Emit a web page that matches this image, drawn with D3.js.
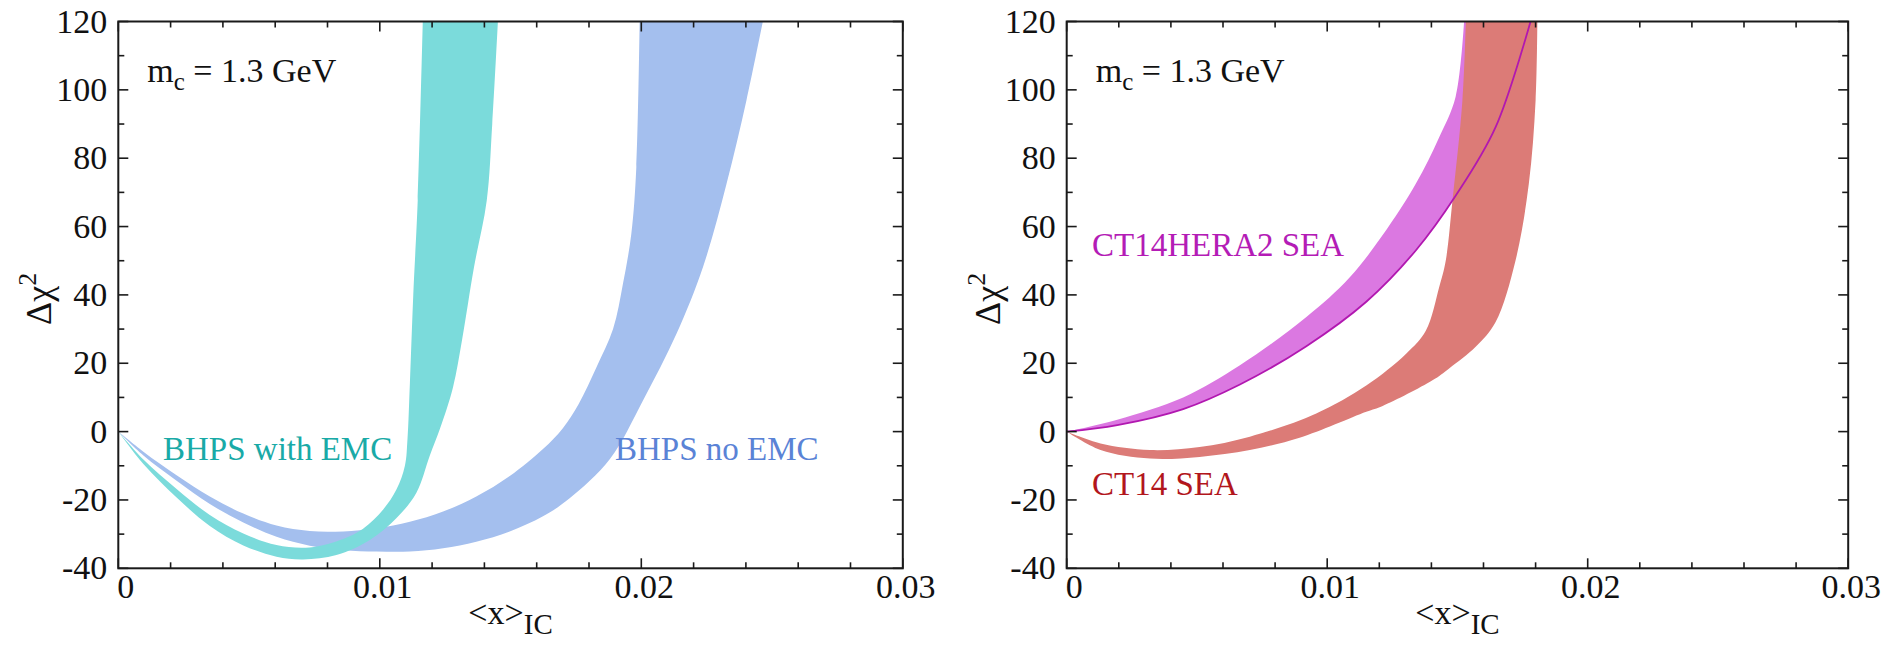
<!DOCTYPE html>
<html>
<head>
<meta charset="utf-8">
<script src="https://cdn.jsdelivr.net/npm/d3@7"></script>
<style>
  html, body { margin: 0; padding: 0; background: #fff; font-family: "Liberation Serif", "DejaVu Serif", "Times New Roman", Times, serif; }
  text { font-family: "Liberation Serif", "DejaVu Serif", "Times New Roman", Times, serif; }
</style>
</head>
<body>
<svg id="chart" width="1891" height="645" font-family="Liberation Serif, DejaVu Serif, Times New Roman, serif"></svg>
<script>
// ---------------- DATA ----------------
const xTicks = [0, 0.01, 0.02, 0.03];
const xTickLabels = ["0", "0.01", "0.02", "0.03"];
const yTicks = [-40, -20, 0, 20, 40, 60, 80, 100, 120];
const yTickLabels = ["-40", "-20", "0", "20", "40", "60", "80", "100", "120"];

// Left panel: BHPS no EMC (blue band), edges as [<x>_IC, Δχ²]
const bhpsNoEmcUpper = [[0,0],[0.00096,-5.9],[0.00223,-12.8],[0.0035,-19.0],[0.00478,-24.0],[0.00605,-27.5],[0.00732,-29.1],[0.0086,-29.2],[0.00987,-28.3],[0.01115,-26.4],[0.01242,-23.4],[0.01369,-19.0],[0.01497,-13.0],[0.01624,-5.1],[0.0170,1.0],[0.0176,8],[0.01829,18.9],[0.01892,30],[0.0193,43.3],[0.01962,58],[0.01981,77.4],[0.01994,122]];
const bhpsNoEmcLower = [[0,0],[0.00096,-7.0],[0.00223,-14.4],[0.0035,-21.2],[0.00478,-26.6],[0.00605,-30.8],[0.00732,-33.4],[0.0086,-34.7],[0.00987,-35.1],[0.01115,-35.1],[0.01242,-34.1],[0.01369,-32.2],[0.01497,-29.2],[0.01624,-24.8],[0.01726,-19.5],[0.0188,-8],[0.02007,9.2],[0.02135,28.7],[0.02236,48.2],[0.02326,72.5],[0.02402,96.9],[0.02470,122]];

// Left panel: BHPS with EMC (teal band)
const bhpsEmcInner = [[0,0],[0.00096,-8.2],[0.00223,-16.8],[0.0035,-24.4],[0.00478,-29.8],[0.00605,-33.2],[0.00732,-33.9],[0.0086,-31.4],[0.00936,-28.4],[0.01013,-22.8],[0.01064,-16.9],[0.01096,-10.0],[0.01106,-2],[0.01115,14],[0.01128,40],[0.01145,67.6],[0.01165,122]];
const bhpsEmcOuter = [[0,0],[0.00096,-9.5],[0.00223,-19.3],[0.0035,-27.6],[0.00478,-33.3],[0.00605,-36.6],[0.00707,-37.4],[0.00834,-36.1],[0.00962,-31.7],[0.01064,-25.3],[0.0114,-17.9],[0.01191,-7.1],[0.0123,0.8],[0.0128,13],[0.01315,27],[0.0136,48],[0.01409,67.6],[0.0143,90],[0.01453,122]];

// Right panel: CT14HERA2 SEA (magenta band) and CT14 SEA (red band)
const ct14h2Upper = [[0,0],[0.00194,3.5],[0.00447,10],[0.00665,19.4],[0.0092,33.5],[0.01085,45],[0.01213,57.5],[0.0134,72.5],[0.01429,86],[0.01493,98],[0.01527,122]];
const ct14h2Lower = [[0,0],[0.00194,1.9],[0.00447,6.6],[0.00665,13.8],[0.0092,25],[0.0115,38],[0.0134,53],[0.01493,69],[0.01646,89],[0.01788,122]];
const ct14Inner = [[0,0],[0.0013,-3.5],[0.0032,-5.4],[0.0051,-4.5],[0.00703,-1.5],[0.00958,5.3],[0.0115,13.5],[0.01303,22.8],[0.01379,29.6],[0.0143,42.3],[0.01455,50],[0.01481,67.7],[0.01519,96.9],[0.01533,122]];
const ct14Outer = [[0,0],[0.0013,-5.4],[0.0032,-7.9],[0.0051,-7.4],[0.00703,-5.4],[0.00894,-1.8],[0.0115,5.8],[0.01213,7.5],[0.01404,15],[0.01468,18.5],[0.0157,24.8],[0.01646,32],[0.01723,50.1],[0.01774,72.5],[0.0180,96.9],[0.01807,122]];

const panelNote = "1.3 GeV";

// ---------------- LAYOUT ----------------
const FONT = "Liberation Serif, DejaVu Serif, Times New Roman, serif";
const svg = d3.select("#chart");
const plotTop = 21.5, plotBottom = 568.3;
const panels = [
  { x0: 118.3, x1: 902.8 },
  { x0: 1066.7, x1: 1848.2 }
];
const colors = {
  tealFill: "#7bdbdb", tealText: "#19aaa7",
  blueFill: "#a4bfee", blueText: "#5a83d6",
  magFill: "#db78e1", magLine: "#b118b0", magText: "#b41cb6",
  redFill: "#dc7b77", redText: "#b2161c"
};

function bandPath(x, y, edgeA, edgeB) {
  const line = d3.line().x(d => x(d[0])).y(d => y(d[1])).curve(d3.curveCatmullRom.alpha(0.5));
  const a = line(edgeA);
  const b = line(edgeB.slice().reverse());
  return a + b.replace(/^M/, "L") + "Z";
}

function drawPanel(i, p) {
  const x = d3.scaleLinear().domain([0, 0.03]).range([p.x0, p.x1]);
  const y = d3.scaleLinear().domain([-40, 120]).range([plotBottom, plotTop]);
  const g = svg.append("g").attr("font-family", FONT);

  const clipId = "clip" + i;
  svg.append("clipPath").attr("id", clipId)
    .append("rect").attr("x", p.x0).attr("y", plotTop)
    .attr("width", p.x1 - p.x0).attr("height", plotBottom - plotTop);
  const plot = g.append("g").attr("clip-path", `url(#${clipId})`);

  if (i === 0) {
    plot.append("path").attr("d", bandPath(x, y, bhpsNoEmcUpper, bhpsNoEmcLower))
      .attr("fill", colors.blueFill);
    plot.append("path").attr("d", bandPath(x, y, bhpsEmcInner, bhpsEmcOuter))
      .attr("fill", colors.tealFill);
  } else {
    plot.append("path").attr("d", bandPath(x, y, ct14h2Upper, ct14h2Lower))
      .attr("fill", colors.magFill);
    plot.append("path").attr("d", bandPath(x, y, ct14Inner, ct14Outer))
      .attr("fill", colors.redFill);
    plot.append("path")
      .attr("d", d3.line().x(d => x(d[0])).y(d => y(d[1])).curve(d3.curveCatmullRom.alpha(0.5))(ct14h2Lower))
      .attr("fill", "none").attr("stroke", colors.magLine).attr("stroke-width", 1.8);
  }

  // frame
  g.append("rect").attr("x", p.x0).attr("y", plotTop)
    .attr("width", p.x1 - p.x0).attr("height", plotBottom - plotTop)
    .attr("fill", "none").attr("stroke", "#1a1a1a").attr("stroke-width", 2);

  // ticks (inward, all four sides)
  const majorLen = 10, minorLen = 6;
  const xMinor = d3.range(0, 0.0301, 0.002);
  xMinor.forEach(v => {
    const isMajor = Math.abs(v / 0.01 - Math.round(v / 0.01)) < 1e-6;
    const L = isMajor ? majorLen : minorLen;
    g.append("line").attr("x1", x(v)).attr("x2", x(v)).attr("y1", plotBottom).attr("y2", plotBottom - L)
      .attr("stroke", "#1a1a1a").attr("stroke-width", 1.6);
    g.append("line").attr("x1", x(v)).attr("x2", x(v)).attr("y1", plotTop).attr("y2", plotTop + L)
      .attr("stroke", "#1a1a1a").attr("stroke-width", 1.6);
  });
  d3.range(-40, 121, 10).forEach(v => {
    const L = (v % 20 === 0) ? majorLen : minorLen;
    g.append("line").attr("x1", p.x0).attr("x2", p.x0 + L).attr("y1", y(v)).attr("y2", y(v))
      .attr("stroke", "#1a1a1a").attr("stroke-width", 1.6);
    g.append("line").attr("x1", p.x1).attr("x2", p.x1 - L).attr("y1", y(v)).attr("y2", y(v))
      .attr("stroke", "#1a1a1a").attr("stroke-width", 1.6);
  });

  // tick labels
  yTicks.forEach((v, k) => {
    g.append("text").attr("x", p.x0 - 11).attr("y", y(v) + 11)
      .attr("text-anchor", "end").attr("font-size", 34).attr("fill", "#111")
      .text(yTickLabels[k]);
  });
  xTicks.forEach((v, k) => {
    const t = g.append("text").attr("y", plotBottom + 30)
      .attr("font-size", 34).attr("fill", "#111").text(xTickLabels[k]);
    if (k === 0) t.attr("x", x(v) - 1).attr("text-anchor", "start");
    else t.attr("x", x(v) + 3).attr("text-anchor", "middle");
  });

  // axis titles
  const xt = g.append("text").attr("x", (p.x0 + p.x1) / 2).attr("y", 624)
    .attr("text-anchor", "middle").attr("font-size", 34).attr("fill", "#111");
  xt.append("tspan").text("<x>");
  xt.append("tspan").attr("dy", 10).attr("font-size", 29).text("IC");

  const yt = g.append("text")
    .attr("transform", `translate(${p.x0 - 67},325) rotate(-90)`)
    .attr("text-anchor", "start").attr("font-size", 36).attr("fill", "#111");
  yt.append("tspan").text("Δχ");
  yt.append("tspan").attr("dy", -15).attr("font-size", 26).text("2");

  // m_c note
  const mt = g.append("text").attr("x", p.x0 + 29).attr("y", 82)
    .attr("font-size", 34).attr("fill", "#111");
  mt.append("tspan").text("m");
  mt.append("tspan").attr("dy", 8).attr("font-size", 25).text("c");
  mt.append("tspan").attr("dy", -8).text(" = " + panelNote);

  // series labels
  if (i === 0) {
    g.append("text").attr("x", 163).attr("y", 460).attr("font-size", 33)
      .attr("fill", colors.tealText).text("BHPS with EMC");
    g.append("text").attr("x", 615).attr("y", 460).attr("font-size", 33)
      .attr("fill", colors.blueText).text("BHPS no EMC");
  } else {
    g.append("text").attr("x", 1092).attr("y", 256).attr("font-size", 33)
      .attr("fill", colors.magText).text("CT14HERA2 SEA");
    g.append("text").attr("x", 1092).attr("y", 495).attr("font-size", 33)
      .attr("fill", colors.redText).text("CT14 SEA");
  }
}

panels.forEach((p, i) => drawPanel(i, p));
</script>
</body>
</html>
